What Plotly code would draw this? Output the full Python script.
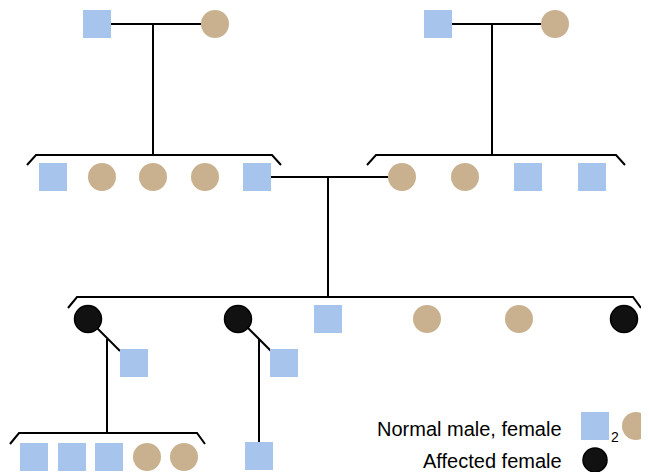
import plotly.graph_objects as go

W, H = 649, 472
PAGE_MARGIN = 8  # default body margin of the html page

MALE_COLOR = "#a7c5ec"
FEMALE_COLOR = "#c9b190"
AFFECTED_COLOR = "#111111"

# individuals (x, y) in the drawing's own pixel-like coordinate space
normal_males_x = [97, 438, 53, 257, 528, 592, 328, 134, 284, 34, 72, 109, 259]
normal_males_y = [24, 24, 177, 177, 177, 177, 319, 363, 363, 457, 457, 457, 456]
normal_females_x = [215, 555, 102, 153, 205, 402, 465, 427, 519, 147, 184]
normal_females_y = [24, 24, 177, 177, 177, 177, 177, 319, 319, 457, 457]
affected_females_x = [88, 238, 624]
affected_females_y = [319, 319, 319]

# connector polylines: matings, descent lines, sibship brackets
connectors = [
    [(111, 24), (201, 24)],
    [(153, 24), (153, 155)],
    [(452, 24), (541, 24)],
    [(492, 24), (492, 155)],
    [(27, 165), (36, 155), (272, 155), (281, 165)],
    [(367, 165), (376, 155), (616, 155), (625, 165)],
    [(271, 177), (388, 177)],
    [(328, 177), (328, 297)],
    [(68, 308), (77, 297), (633, 297), (641, 308)],
    [(97, 328), (120, 351)],
    [(107, 339), (107, 433)],
    [(248, 328), (271, 351)],
    [(259, 339), (259, 442)],
    [(10, 444), (19, 433), (197, 433), (205, 444)],
]

fig = go.Figure()

for seg in connectors:
    fig.add_trace(go.Scatter(
        x=[p[0] for p in seg], y=[p[1] for p in seg], mode="lines",
        line=dict(color="black", width=2), hoverinfo="skip", cliponaxis=False,
    ))

fig.add_trace(go.Scatter(
    x=normal_males_x, y=normal_males_y, mode="markers", cliponaxis=False,
    marker=dict(symbol="square", size=28, color=MALE_COLOR, line=dict(width=0)),
))
fig.add_trace(go.Scatter(
    x=normal_females_x, y=normal_females_y, mode="markers", cliponaxis=False,
    marker=dict(symbol="circle", size=28, color=FEMALE_COLOR, line=dict(width=0)),
))
fig.add_trace(go.Scatter(
    x=affected_females_x, y=affected_females_y, mode="markers", cliponaxis=False,
    marker=dict(symbol="circle", size=27, color=AFFECTED_COLOR, line=dict(width=1.5, color="#000000")),
))

# legend drawn by hand
fig.add_trace(go.Scatter(
    x=[595], y=[426], mode="markers", cliponaxis=False,
    marker=dict(symbol="square", size=28, color=MALE_COLOR, line=dict(width=0)),
))
fig.add_trace(go.Scatter(
    x=[636], y=[426], mode="markers", cliponaxis=False,
    marker=dict(symbol="circle", size=28, color=FEMALE_COLOR, line=dict(width=0)),
))
fig.add_trace(go.Scatter(
    x=[595], y=[460], mode="markers", cliponaxis=False,
    marker=dict(symbol="circle", size=24, color=AFFECTED_COLOR, line=dict(width=1.5, color="#000000")),
))

font = dict(family="Liberation Sans, Arial, sans-serif", size=20, color="black")
fig.add_annotation(x=564, y=429, text="Normal male, female", showarrow=False,
                   xanchor="right", yanchor="middle", font=font)
fig.add_annotation(x=564, y=461, text="Affected female", showarrow=False,
                   xanchor="right", yanchor="middle", font=font)
fig.add_annotation(x=615, y=437, text="2", showarrow=False,
                   xanchor="center", yanchor="middle", font=dict(font, size=14))

fig.update_layout(
    width=W - PAGE_MARGIN, height=H - PAGE_MARGIN, autosize=False,
    margin=dict(l=0, r=0, t=0, b=0),
    paper_bgcolor="white", plot_bgcolor="white",
    showlegend=False,
    xaxis=dict(range=[PAGE_MARGIN, W], visible=False, fixedrange=True),
    yaxis=dict(range=[H, PAGE_MARGIN], visible=False, fixedrange=True),
)

fig.write_html("out.html")
